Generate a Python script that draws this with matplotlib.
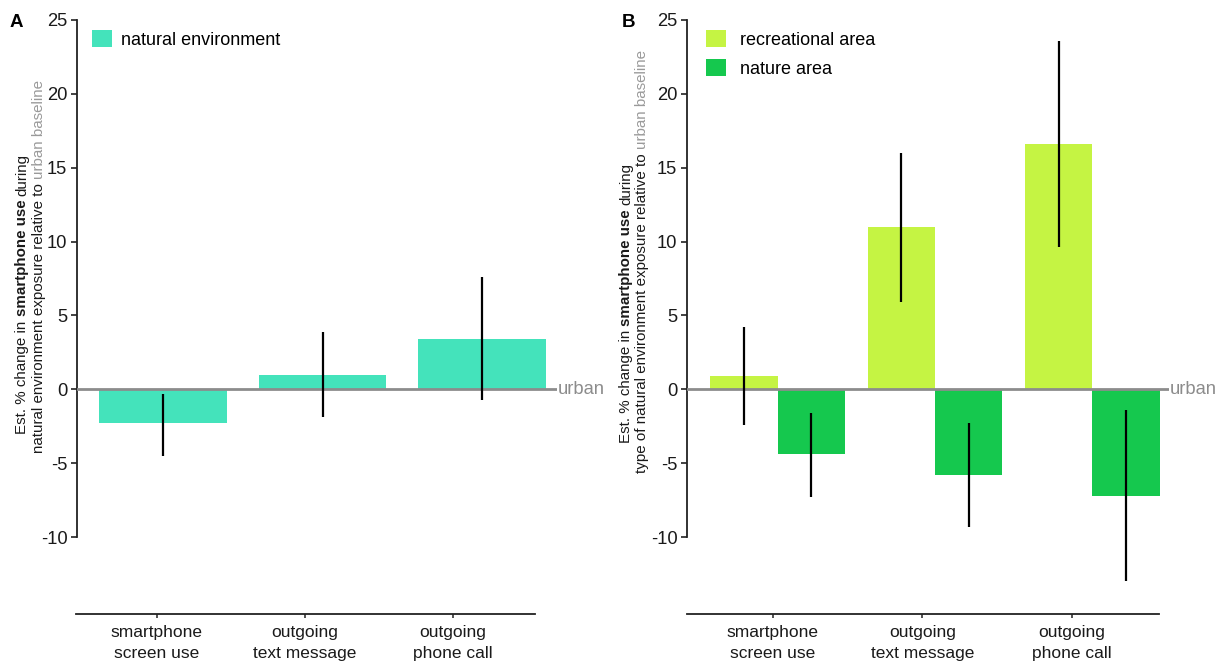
import matplotlib
matplotlib.use("Agg")
import matplotlib.pyplot as plt
import matplotlib.transforms as mtransforms
from matplotlib.patches import Patch
import numpy as np

plt.rcParams['font.family'] = ['Liberation Sans', 'DejaVu Sans']

# ---------------- data ----------------
categories = ["smartphone\nscreen use", "outgoing\ntext message", "outgoing\nphone call"]
natural_env = [-2.3, 1.0, 3.4]
natural_env_lo = [-4.5, -1.9, -0.7]
natural_env_hi = [-0.3, 3.9, 7.6]
recreational = [0.9, 11.0, 16.6]
recreational_lo = [-2.4, 5.9, 9.6]
recreational_hi = [4.2, 16.0, 23.6]
nature = [-4.4, -5.8, -7.2]
nature_lo = [-7.3, -9.3, -13.0]
nature_hi = [-1.6, -2.3, -1.4]
yticks = [-10, -5, 0, 5, 10, 15, 20, 25]

# ---------------- style ----------------
C_NAT_ENV = "#44e3bb"
C_REC = "#c5f443"
C_NATURE = "#15c84e"
C_ZERO = "#8c8c8c"
C_GRAY_TXT = "#9a9a9a"
C_TXT = "#1a1a1a"
FS = 12.5
FS_TICK = 13.2
FS_LEG = 13
FS_YLAB = 10.9

W, H = 1229, 664
fig = plt.figure(figsize=(W / 100, H / 100), dpi=100)


def rect(l, t, r, b):
    return [l / W, 1 - b / H, (r - l) / W, (b - t) / H]


def style_main(ax, xlim):
    ax.set_xlim(*xlim)
    ax.set_ylim(-10, 25)
    for s in ("top", "right", "bottom"):
        ax.spines[s].set_visible(False)
    ax.spines["left"].set_bounds(-10, 25)
    ax.spines["left"].set_linewidth(1.3)
    ax.spines["left"].set_color("#222222")
    ax.set_yticks(yticks)
    ax.set_yticklabels([str(v) for v in yticks])
    ax.tick_params(axis="y", direction="out", length=4, width=1.2, colors="#222222",
                   labelsize=FS_TICK, labelcolor=C_TXT, pad=3)
    ax.set_xticks([])
    ax.patch.set_visible(False)
    ax.axhline(0, color=C_ZERO, lw=2, zorder=3)
    tr = mtransforms.offset_copy(
        mtransforms.blended_transform_factory(ax.transAxes, ax.transData),
        fig=fig, x=1, y=0, units="dots")
    ax.text(1.0, 0, "urban", transform=tr, ha="left", va="center",
            fontsize=13.2, color=C_ZERO)


def cat_axis(l, r, y, xlim):
    bx = fig.add_axes(rect(l, y - 10, r, y))
    bx.set_xlim(*xlim)
    bx.set_ylim(0, 1)
    for s in ("top", "right", "left"):
        bx.spines[s].set_visible(False)
    bx.spines["bottom"].set_linewidth(1.3)
    bx.spines["bottom"].set_color("#222222")
    bx.set_yticks([])
    bx.set_xticks(range(len(categories)))
    bx.set_xticklabels(categories, fontsize=FS, color=C_TXT, linespacing=1.45)
    bx.tick_params(axis="x", direction="out", length=3, width=1.1, colors="#222222",
                   labelcolor=C_TXT, pad=5)
    bx.patch.set_visible(False)
    return bx


def rotated_label(x_px, y_px_start, segs, size):
    r = fig.canvas.get_renderer()
    t1 = fig.text(0, 0, "a a", fontsize=size)
    t2 = fig.text(0, 0, "aa", fontsize=size)
    sp = t1.get_window_extent(r).width - t2.get_window_extent(r).width
    t1.remove()
    t2.remove()
    y = H - y_px_start
    for i, (s, w, c) in enumerate(segs):
        if i > 0:
            y += sp
        t = fig.text(x_px / W, y / H, s, rotation=90, rotation_mode="anchor",
                     ha="left", va="baseline", fontsize=size, fontweight=w, color=c)
        y += t.get_window_extent(r).height


x = np.arange(len(categories))
fsp = FS_LEG * 100 / 72

# ---------------- panel A ----------------
axA = fig.add_axes(rect(77, 20, 557, 537))
style_main(axA, (-0.539, 2.470))
axA.bar(x, natural_env, width=0.8, color=C_NAT_ENV, zorder=2, label="natural environment")
axA.vlines(x, natural_env_lo, natural_env_hi, color="black", lw=1.6, zorder=4, clip_on=False)
axA.legend(handles=[Patch(facecolor=C_NAT_ENV)], labels=["natural environment"],
           loc="upper left", bbox_to_anchor=(92 / W, 1 - 30 / H),
           bbox_transform=fig.transFigure, frameon=False, borderpad=0, borderaxespad=0,
           handlelength=20 / fsp, handleheight=20 / fsp, handletextpad=9 / fsp,
           fontsize=FS_LEG)
cat_axis(76, 535, 614, (-0.547, 2.554))

# ---------------- panel B ----------------
axB = fig.add_axes(rect(687, 20, 1169, 537))
style_main(axB, (-0.575, 2.486))
bw = 0.4286
axB.bar(x - bw / 2, recreational, width=bw, color=C_REC, zorder=2)
axB.bar(x + bw / 2, nature, width=bw, color=C_NATURE, zorder=2)
axB.vlines(x - bw / 2, recreational_lo, recreational_hi, color="black", lw=1.6, zorder=4, clip_on=False)
axB.vlines(x + bw / 2, nature_lo, nature_hi, color="black", lw=1.6, zorder=4, clip_on=False)
axB.legend(handles=[Patch(facecolor=C_REC), Patch(facecolor=C_NATURE)],
           labels=["recreational area", "nature area"],
           loc="upper left", bbox_to_anchor=(706 / W, 1 - 30 / H),
           bbox_transform=fig.transFigure, frameon=False, borderpad=0, borderaxespad=0,
           handlelength=20 / fsp, handleheight=20 / fsp, handletextpad=14 / fsp,
           labelspacing=10 / fsp, fontsize=FS_LEG)
cat_axis(687, 1159, 614, (-0.575, 2.582))

# ---------------- labels ----------------
fig.text(10 / W, 1 - 14 / H, "A", fontsize=13.5, fontweight="bold", va="top", ha="left", color="black")
fig.text(622 / W, 1 - 14 / H, "B", fontsize=13.5, fontweight="bold", va="top", ha="left", color="black")

fig.canvas.draw()
rotated_label(26, 434, [("Est. % change in", "normal", C_TXT),
                        ("smartphone use", "bold", C_TXT),
                        ("during", "normal", C_TXT)], FS_YLAB)
rotated_label(43, 453, [("natural environment exposure relative to", "normal", C_TXT),
                        ("urban baseline", "normal", C_GRAY_TXT)], FS_YLAB)
rotated_label(630, 443, [("Est. % change in", "normal", C_TXT),
                         ("smartphone use", "bold", C_TXT),
                         ("during", "normal", C_TXT)], FS_YLAB)
rotated_label(646, 473, [("type of natural environment exposure relative to", "normal", C_TXT),
                         ("urban baseline", "normal", C_GRAY_TXT)], FS_YLAB)

fig.savefig("out.png", dpi=100)
